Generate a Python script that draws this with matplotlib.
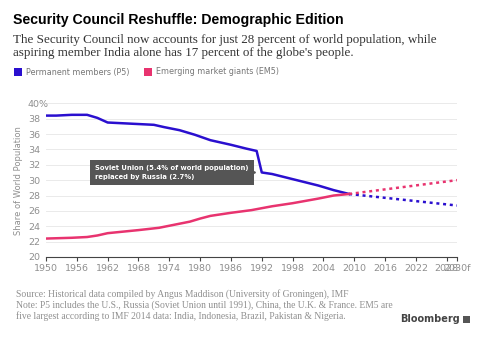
import matplotlib
matplotlib.use("Agg")
import matplotlib.pyplot as plt
from matplotlib.patches import Rectangle

# Share of world population, percent
p5_years = [1950, 1952, 1955, 1958, 1960, 1962, 1965, 1968, 1971, 1973, 1976,
            1979, 1982, 1986, 1989, 1991, 1992, 1994, 1997, 2000, 2003, 2006, 2009]
p5_share = [38.4, 38.4, 38.5, 38.5, 38.1, 37.5, 37.4, 37.3, 37.2, 36.9, 36.5,
            35.9, 35.2, 34.6, 34.1, 33.8, 31.0, 30.8, 30.3, 29.8, 29.3, 28.7, 28.2]

em5_years = [1950, 1955, 1958, 1960, 1962, 1965, 1968, 1972, 1975, 1978, 1980,
             1982, 1986, 1990, 1994, 1998, 2003, 2006, 2009]
em5_share = [22.4, 22.5, 22.6, 22.8, 23.1, 23.3, 23.5, 23.8, 24.2, 24.6, 25.0,
             25.35, 25.75, 26.1, 26.6, 27.0, 27.6, 28.0, 28.2]

# IMF-based projections
proj_years = [2009, 2030]
p5_proj = [28.2, 26.7]
em5_proj = [28.2, 30.0]

xtick_years = list(range(1950, 2029, 6)) + [2030]
xtick_labels = [str(y) for y in range(1950, 2029, 6)] + ["2030f"]
ytick_vals = list(range(20, 41, 2))
ytick_labels = [str(v) for v in ytick_vals[:-1]] + ["40%"]

BLUE = "#2a0fcf"
PINK = "#e8336f"
GREY = "#8f8f8f"

fig = plt.figure(figsize=(4.88, 3.41), dpi=100)
ax = fig.add_axes([46 / 488, 1 - 257 / 341, 411 / 488, (257 - 103.3) / 341])

ax.plot(p5_years, p5_share, color=BLUE, lw=1.8, solid_joinstyle="round")
ax.plot(em5_years, em5_share, color=PINK, lw=1.8, solid_joinstyle="round")
ax.plot(proj_years, p5_proj, color=BLUE, lw=1.8, ls=(0, (1.2, 1.5)))
ax.plot(proj_years, em5_proj, color=PINK, lw=1.8, ls=(0, (1.2, 1.5)))

ax.set_xlim(1950, 2030)
ax.set_ylim(20, 40)
ax.set_yticks(ytick_vals)
ax.set_yticklabels(ytick_labels)
ax.set_xticks(xtick_years)
ax.set_xticklabels(xtick_labels)
ax.grid(axis="y", color="#e6e6e6", lw=0.6)
ax.set_axisbelow(True)
for s in ["top", "right", "left"]:
    ax.spines[s].set_visible(False)
ax.spines["bottom"].set_color("#444444")
ax.spines["bottom"].set_linewidth(0.8)
ax.tick_params(axis="y", length=0, pad=13, labelsize=6.8, labelcolor=GREY)
for lbl in ax.get_yticklabels():
    lbl.set_horizontalalignment("left")
ax.tick_params(axis="x", length=3, width=0.8, color="#444444", direction="out",
               labelsize=6.8, labelcolor=GREY, pad=2)
ax.set_ylabel("Share of World Population", fontsize=6.0, color=GREY)
ax.yaxis.set_label_coords(-0.056, 0.5)

# callout for the Soviet Union break
ax.text(1959.6, 31.0, "Soviet Union (5.4% of world population)\nreplaced by Russia (2.7%)",
        fontsize=4.9, fontweight="bold", color="white", va="center", ha="left",
        linespacing=1.7,
        bbox=dict(boxstyle="square,pad=0.75", fc="#555555", ec="none"))
ax.plot([1990.0], [31.0], marker=">", ms=4, color="#555555", clip_on=False)

# header
fig.text(13 / 488, 1 - 20 / 341, "Security Council Reshuffle: Demographic Edition",
         fontsize=10.2, fontweight="bold", family="Liberation Sans", va="center")
fig.text(13 / 488, 1 - 46.5 / 341,
         "The Security Council now accounts for just 28 percent of world population, while\n"
         "aspiring member India alone has 17 percent of the globe's people.",
         fontsize=9.4, family="Liberation Serif", color="#333333", va="center",
         linespacing=1.12)

# legend
for x0, col, label in [(14, BLUE, "Permanent members (P5)"),
                       (144, PINK, "Emerging market giants (EM5)")]:
    fig.patches.append(Rectangle((x0 / 488, 1 - 76 / 341), 8 / 488, 8 / 341,
                                 transform=fig.transFigure, fc=col, ec="none"))
    fig.text((x0 + 12) / 488, 1 - 72 / 341, label, fontsize=5.8, color="#777777",
             va="center")

# footer
fig.text(16 / 488, 1 - 305 / 341,
         "Source: Historical data compiled by Angus Maddison (University of Groningen), IMF\n"
         "Note: P5 includes the U.S., Russia (Soviet Union until 1991), China, the U.K. & France. EM5 are\n"
         "five largest according to IMF 2014 data: India, Indonesia, Brazil, Pakistan & Nigeria.",
         fontsize=6.9, family="Liberation Serif", color=GREY, va="center", linespacing=1.15)
fig.text(460 / 488, 1 - 319 / 341, "Bloomberg", fontsize=7, fontweight="bold",
         color="#444444", ha="right", va="center")
fig.patches.append(Rectangle((463 / 488, 1 - 323 / 341), 7 / 488, 7 / 341,
                             transform=fig.transFigure, fc="#555555", ec="none"))

fig.savefig("out.png", dpi=100)
